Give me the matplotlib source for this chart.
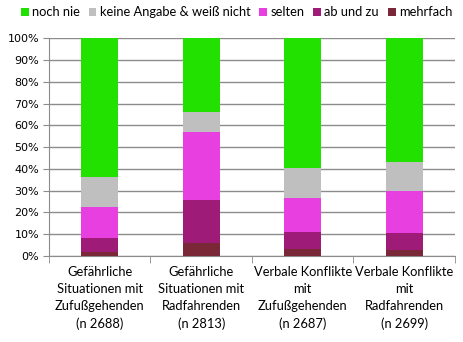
import matplotlib.pyplot as plt
import numpy as np

# Kategorien und Werte (in %)
categories = ["Gefährliche\nSituationen mit\nZufußgehenden\n(n 2688)",
              "Gefährliche\nSituationen mit\nRadfahrenden\n(n 2813)",
              "Verbale Konflikte\nmit\nZufußgehenden\n(n 2687)",
              "Verbale Konflikte\nmit\nRadfahrenden\n(n 2699)"]
mehrfach = [2.0, 6.0, 3.2, 2.8]
ab_und_zu = [6.3, 19.7, 7.8, 7.8]
selten = [14.2, 31.3, 15.6, 19.2]
keine_angabe = [13.8, 9.1, 13.8, 13.4]
noch_nie = [63.7, 33.9, 59.6, 56.8]

series = [("mehrfach", mehrfach, "#7A2838"),
          ("ab und zu", ab_und_zu, "#9E1C78"),
          ("selten", selten, "#E840E0"),
          ("keine Angabe & weiß nicht", keine_angabe, "#BFBFBF"),
          ("noch nie", noch_nie, "#22E000")]

plt.rcParams['font.family'] = ['Lato', 'DejaVu Sans']

fig = plt.figure(figsize=(4.64, 3.42), dpi=100)
ax = fig.add_axes([0.1056, 0.2515, 0.875, 0.6365])

x = np.arange(len(categories))
bottom = np.zeros(len(categories))
bars = {}
for name, vals, col in series:
    bars[name] = ax.bar(x, vals, 0.365, bottom=bottom, color=col, label=name, zorder=3)
    bottom += np.array(vals)

ax.set_xlim(-0.5, 3.5)
ax.set_ylim(0, 100)
ax.set_yticks(np.arange(0, 101, 10))
ax.set_yticklabels([f"{v}%" for v in range(0, 101, 10)],
                   fontfamily="DejaVu Sans", fontsize=8)
ax.yaxis.grid(True, color="#8C8C8C", linewidth=1, zorder=0)

ax.set_xticks(x)
ax.set_xticklabels(categories, fontsize=9.3, linespacing=1.5)
ax.tick_params(axis="x", length=0, pad=7)
ax.set_xticks(np.arange(-0.5, 4, 1), minor=True)
ax.tick_params(axis="x", which="minor", length=5, color="#8C8C8C")
ax.tick_params(axis="y", length=4, color="#8C8C8C", pad=3)

for s in ["top", "right"]:
    ax.spines[s].set_visible(False)
for s in ["left", "bottom"]:
    ax.spines[s].set_color("#8C8C8C")

# Legende oben
order = ["noch nie", "keine Angabe & weiß nicht", "selten", "ab und zu", "mehrfach"]
handles = [bars[n] for n in order]
fig.legend(handles, order, loc="upper center", bbox_to_anchor=(0.51, 1.015),
           ncol=5, frameon=False, fontsize=9.3, handlelength=0.6,
           handleheight=0.6, handletextpad=0.25, columnspacing=0.7)

fig.savefig("out.png", dpi=100)
